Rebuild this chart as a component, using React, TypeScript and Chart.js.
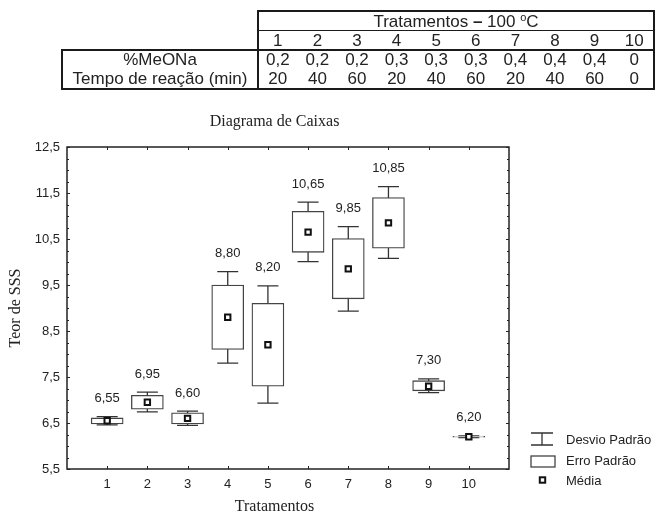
import React, { useEffect, useRef } from 'react';
import { Chart, registerables } from 'chart.js';

Chart.register(...registerables);

// ---- data ----
const treatments = [1, 2, 3, 4, 5, 6, 7, 8, 9, 10];
const means = [6.55, 6.95, 6.6, 8.8, 8.2, 10.65, 9.85, 10.85, 7.3, 6.2];
const seLow = [6.48, 6.8, 6.48, 8.1, 7.3, 10.21, 9.2, 10.3, 7.2, 6.19];
const seHigh = [6.61, 7.1, 6.72, 9.5, 9.1, 11.1, 10.51, 11.4, 7.42, 6.21];
const sdLow = [6.46, 6.74, 6.45, 7.8, 6.93, 10.01, 8.93, 10.08, 7.16, 6.18];
const sdHigh = [6.64, 7.17, 6.76, 9.79, 9.48, 11.3, 10.77, 11.64, 7.46, 6.22];

const tableHeader = 'Tratamentos';
const tableCols = ['1', '2', '3', '4', '5', '6', '7', '8', '9', '10'];
const meonaRow = ['0,2', '0,2', '0,2', '0,3', '0,3', '0,3', '0,4', '0,4', '0,4', '0'];
const tempoRow = ['20', '40', '60', '20', '40', '60', '20', '40', '60', '0'];
const rowLabels = ['%MeONa', 'Tempo de reação (min)'];

const chartTitle = 'Diagrama de Caixas';
const xTitle = 'Tratamentos';
const yTitle = 'Teor de SSS';
const legendLabels = ['Desvio Padrão', 'Erro Padrão', 'Média'];

const fmt = (v: number, d: number) => v.toFixed(d).replace('.', ',');

const INK = '#222';
const SANS = '"Liberation Sans", Arial, sans-serif';
const SERIF = '"Liberation Serif", "Times New Roman", serif';

function drawMeanMarker(ctx: CanvasRenderingContext2D, x: number, y: number) {
  ctx.save();
  ctx.fillStyle = '#fff';
  ctx.strokeStyle = '#111';
  ctx.lineWidth = 2;
  ctx.fillRect(x - 2.7, y - 2.7, 5.4, 5.4);
  ctx.strokeRect(x - 2.7, y - 2.7, 5.4, 5.4);
  ctx.restore();
}

const extrasPlugin = {
  id: 'boxExtras',
  beforeDatasetsDraw(chart: any) {
    const { ctx } = chart;
    const xs = chart.scales.x;
    const ys = chart.scales.y;
    ctx.save();
    ctx.strokeStyle = '#333';
    ctx.lineWidth = 1.3;
    treatments.forEach((t, i) => {
      const x = xs.getPixelForValue(t);
      const yl = ys.getPixelForValue(sdLow[i]);
      const yh = ys.getPixelForValue(sdHigh[i]);
      ctx.beginPath();
      ctx.moveTo(x, yl);
      ctx.lineTo(x, yh);
      ctx.moveTo(x - 10.5, yl);
      ctx.lineTo(x + 10.5, yl);
      ctx.moveTo(x - 10.5, yh);
      ctx.lineTo(x + 10.5, yh);
      ctx.stroke();
    });
    ctx.restore();
  },
  afterDatasetsDraw(chart: any) {
    const { ctx } = chart;
    const xs = chart.scales.x;
    const ys = chart.scales.y;
    ctx.save();
    ctx.fillStyle = INK;
    ctx.font = `13px ${SANS}`;
    ctx.textAlign = 'center';
    ctx.textBaseline = 'middle';
    treatments.forEach((t, i) => {
      const x = xs.getPixelForValue(t);
      const yh = ys.getPixelForValue(sdHigh[i]);
      ctx.fillText(fmt(means[i], 2), x, yh - 18);
    });
    ctx.restore();
  },
  afterDraw(chart: any) {
    const { ctx, chartArea: a } = chart;
    const xs = chart.scales.x;
    const ys = chart.scales.y;
    ctx.save();
    // frame
    ctx.strokeStyle = '#222';
    ctx.lineWidth = 1.5;
    ctx.strokeRect(a.left, a.top, a.right - a.left, a.bottom - a.top);
    // ticks (inward)
    ctx.lineWidth = 1;
    ctx.beginPath();
    ys.ticks.forEach((tk: any) => {
      const v = tk.value;
      const y = Math.round(ys.getPixelForValue(v)) + 0.5;
      const r = (((v - 5.5) % 1) + 1) % 1;
      const major = r < 1e-6 || r > 1 - 1e-6;
      const len = major ? 3 : 2;
      ctx.moveTo(a.left, y);
      ctx.lineTo(a.left + len, y);
      ctx.moveTo(a.right, y);
      ctx.lineTo(a.right - len, y);
    });
    treatments.forEach((t) => {
      const x = Math.round(xs.getPixelForValue(t)) + 0.5;
      ctx.moveTo(x, a.bottom);
      ctx.lineTo(x, a.bottom - 3);
      ctx.moveTo(x, a.top);
      ctx.lineTo(x, a.top + 3);
    });
    ctx.stroke();

    // titles
    ctx.fillStyle = INK;
    ctx.textAlign = 'center';
    ctx.textBaseline = 'middle';
    ctx.font = `16px ${SERIF}`;
    const cx = (a.left - 27 + a.right) / 2;
    ctx.fillText(chartTitle, cx, a.top - 25);
    ctx.fillText(xTitle, cx, a.bottom + 38);
    ctx.save();
    ctx.translate(16, (a.top + a.bottom) / 2);
    ctx.rotate(-Math.PI / 2);
    ctx.fillText(yTitle, 0, 0);
    ctx.restore();

    // legend
    const lx = a.right + 22;
    const ly = a.bottom - 29;
    ctx.strokeStyle = '#333';
    ctx.lineWidth = 1.3;
    ctx.beginPath();
    ctx.moveTo(lx, ly - 7);
    ctx.lineTo(lx + 22, ly - 7);
    ctx.moveTo(lx, ly + 5);
    ctx.lineTo(lx + 22, ly + 5);
    ctx.moveTo(lx + 11, ly - 7);
    ctx.lineTo(lx + 11, ly + 5);
    ctx.stroke();
    ctx.strokeStyle = '#444';
    ctx.strokeRect(lx, ly + 16, 24, 11);
    drawMeanMarker(ctx, lx + 11.5, ly + 40);
    ctx.fillStyle = INK;
    ctx.textAlign = 'left';
    ctx.font = `13px ${SANS}`;
    ctx.fillText(legendLabels[0], lx + 35, ly);
    ctx.fillText(legendLabels[1], lx + 35, ly + 21);
    ctx.fillText(legendLabels[2], lx + 35, ly + 41);
    ctx.restore();
  },
};

function ChartBox() {
  const ref = useRef<HTMLCanvasElement | null>(null);
  useEffect(() => {
    if (!ref.current) return;
    const chart = new Chart(ref.current, {
      type: 'bar',
      data: {
        datasets: [
          {
            type: 'scatter',
            label: 'Média',
            order: 0,
            data: treatments.map((t, i) => ({ x: t, y: means[i] })),
            pointStyle: 'rect',
            pointRadius: 3.8,
            pointBorderWidth: 2,
            pointBackgroundColor: '#fff',
            pointBorderColor: '#111',
          } as any,
          {
            type: 'bar',
            label: 'Erro Padrão',
            order: 1,
            data: treatments.map((t, i) => ({ x: t, y: [seLow[i], seHigh[i]] })) as any,
            backgroundColor: '#fff',
            borderColor: '#444',
            borderWidth: 1.3,
            borderSkipped: false,
            barThickness: 32,
          } as any,
        ],
      },
      options: {
        responsive: false,
        animation: false,
        layout: { padding: { top: 147, right: 148, left: 0, bottom: 0 } },
        plugins: {
          legend: { display: false },
          tooltip: { enabled: false },
          title: { display: false },
        },
        scales: {
          x: {
            type: 'linear',
            min: 0,
            max: 11,
            offset: false,
            grid: { display: false, drawTicks: false },
            border: { display: false },
            ticks: {
              stepSize: 1,
              autoSkip: false,
              maxRotation: 0,
              padding: 8,
              color: INK,
              font: { family: SANS, size: 13 },
              callback: (v: any) => (v >= 1 && v <= 10 ? String(v) : ''),
            },
            afterFit: (s: any) => {
              s.height = 47;
            },
          },
          y: {
            type: 'linear',
            min: 5.5,
            max: 12.5,
            grid: { display: false, drawTicks: false },
            border: { display: false },
            ticks: {
              stepSize: 0.25,
              autoSkip: false,
              padding: 7,
              color: INK,
              font: { family: SANS, size: 13 },
              callback: (v: any) => {
                const r = (((v - 5.5) % 1) + 1) % 1;
                return r < 1e-6 || r > 1 - 1e-6 ? fmt(v, 1) : '';
              },
            },
            afterFit: (s: any) => {
              s.width = 67;
            },
          },
        },
      },
      plugins: [extrasPlugin],
    });
    return () => chart.destroy();
  }, []);
  return (
    <canvas
      ref={ref}
      width={657}
      height={516}
      style={{ position: 'absolute', left: 0, top: 0, width: 657, height: 516 }}
    />
  );
}

function HLine({ x, y, w, t }: { x: number; y: number; w: number; t: number }) {
  return <div style={{ position: 'absolute', left: x, top: y - t / 2, width: w, height: t, background: '#1a1a1a' }} />;
}
function VLine({ x, y, h, t }: { x: number; y: number; h: number; t: number }) {
  return <div style={{ position: 'absolute', left: x - t / 2, top: y, width: t, height: h, background: '#1a1a1a' }} />;
}
function Cell({ x, y, w, h, children }: { x: number; y: number; w: number; h: number; children: any }) {
  return (
    <div
      style={{
        position: 'absolute',
        left: x,
        top: y,
        width: w,
        height: h,
        display: 'flex',
        alignItems: 'center',
        justifyContent: 'center',
        font: `17px ${SANS}`,
        color: INK,
        whiteSpace: 'nowrap',
        lineHeight: 1,
      }}
    >
      {children}
    </div>
  );
}

function TopTable() {
  const L = 258;
  const R = 654;
  const colW = (R - L) / tableCols.length;
  const yTop = 11;
  const yHdr = 30.5;
  const yNum = 50;
  const yBot = 88.5;
  const xLeft = 62;
  const rowH = (yBot - yNum) / 2;
  return (
    <div style={{ position: 'absolute', left: 0, top: 0, width: 657, height: 100 }}>
      <HLine x={L} y={yTop} w={R - L} t={2} />
      <HLine x={L} y={yHdr} w={R - L} t={1.3} />
      <HLine x={xLeft} y={yNum} w={R - xLeft} t={2} />
      <HLine x={xLeft} y={yBot} w={R - xLeft} t={2} />
      <VLine x={L} y={yTop - 1} h={yBot - yTop + 2} t={2} />
      <VLine x={R} y={yTop - 1} h={yBot - yTop + 2} t={2} />
      <VLine x={xLeft} y={yNum - 1} h={yBot - yNum + 2} t={2} />
      <Cell x={L} y={yTop} w={R - L} h={yHdr - yTop}>
        <span>
          {tableHeader} <b>–</b> 100 <sup style={{ fontSize: 11, verticalAlign: 6 }}>o</sup>C
        </span>
      </Cell>
      {tableCols.map((c, i) => (
        <Cell key={'c' + i} x={L + i * colW} y={yHdr} w={colW} h={yNum - yHdr}>
          {c}
        </Cell>
      ))}
      <Cell x={xLeft} y={yNum} w={L - xLeft} h={rowH}>
        {rowLabels[0]}
      </Cell>
      <Cell x={xLeft} y={yNum + rowH} w={L - xLeft} h={rowH}>
        {rowLabels[1]}
      </Cell>
      {meonaRow.map((c, i) => (
        <Cell key={'m' + i} x={L + i * colW} y={yNum} w={colW} h={rowH}>
          {c}
        </Cell>
      ))}
      {tempoRow.map((c, i) => (
        <Cell key={'t' + i} x={L + i * colW} y={yNum + rowH} w={colW} h={rowH}>
          {c}
        </Cell>
      ))}
    </div>
  );
}

export default function App() {
  return (
    <div style={{ position: 'absolute', left: 0, top: 0, width: 657, height: 516, background: '#fff', overflow: 'hidden' }}>
      <ChartBox />
      <TopTable />
    </div>
  );
}
